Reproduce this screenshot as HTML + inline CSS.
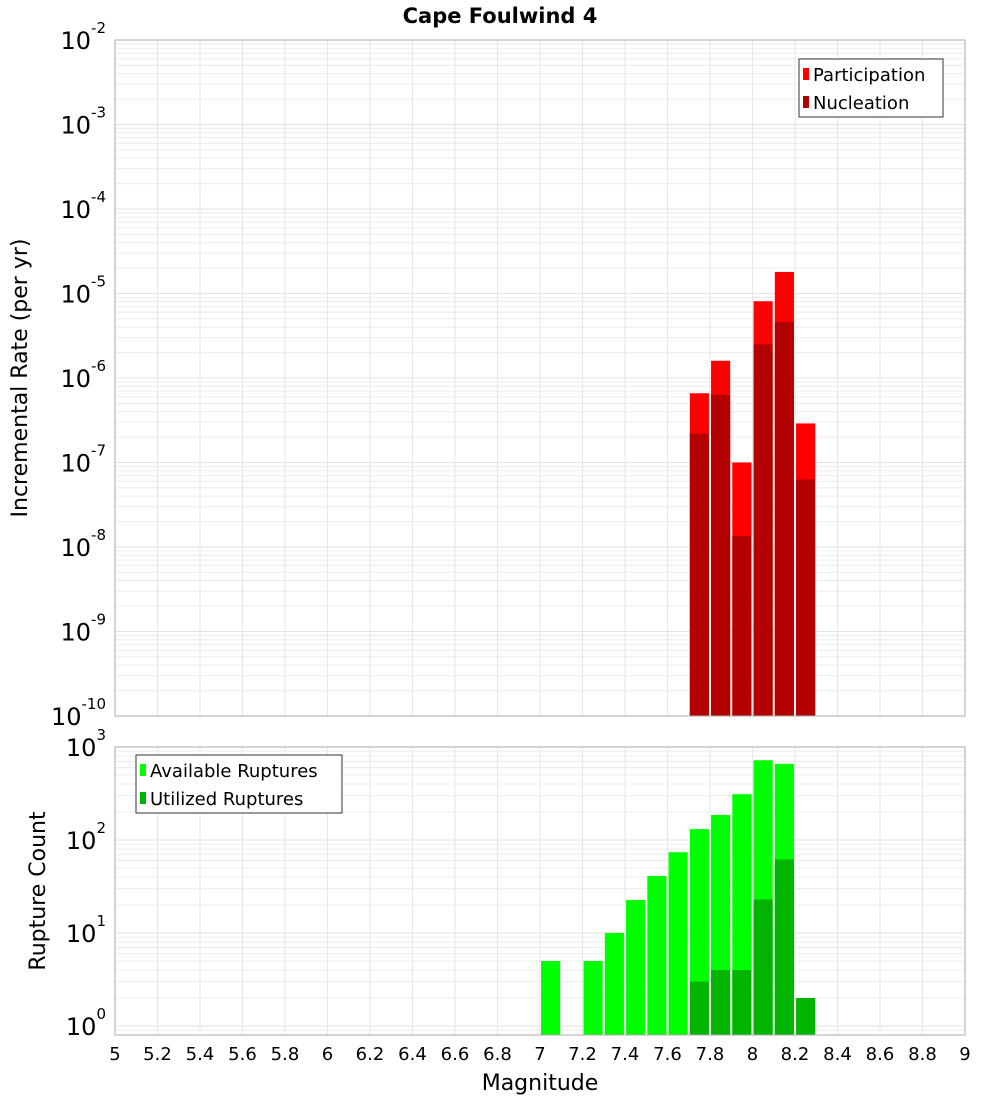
<!DOCTYPE html>
<html><head><meta charset="utf-8"><style>
body{margin:0;background:#fff;}
svg{display:block;font-family:"DejaVu Sans","Liberation Sans",sans-serif;}
</style></head><body>
<svg id="c" width="1000" height="1100" viewBox="0 0 1000 1100"></svg>
<script>
const bins=[7.05,7.15,7.25,7.35,7.45,7.55,7.65,7.75,7.85,7.95,8.05,8.15,8.25];
const participation=[0,0,0,0,0,0,0,6.6e-7,1.6e-6,1.0e-7,8.1e-6,1.8e-5,2.9e-7];
const nucleation=[0,0,0,0,0,0,0,2.2e-7,6.3e-7,1.35e-8,2.5e-6,4.6e-6,6.3e-8];
const available=[5,0,5,10,22.6,41,74,131,186,311,720,660,0];
const utilized=[0,0,0,0,0,0,0,3,4,4,23,62,2];
const xTicks=["5","5.2","5.4","5.6","5.8","6","6.2","6.4","6.6","6.8","7","7.2","7.4","7.6","7.8","8","8.2","8.4","8.6","8.8","9"];
const topExp=[-2,-3,-4,-5,-6,-7,-8,-9,-10];
const botExp=[0,1,2,3];

const svg=document.getElementById('c');const NS='http://www.w3.org/2000/svg';
function el(t,a,p){const e=document.createElementNS(NS,t);for(const k in a)e.setAttribute(k,a[k]);(p||svg).appendChild(e);return e;}
const X0=115,X1=965;
const xs=m=>X0+(m-5)*(X1-X0)/4;
const yTop=v=>40+(-2-Math.log10(v))*84.5;
const yBot=v=>1026-93*Math.log10(v);
const T0=40,T1=716,B0=747,B1=1035;

function grid(y0,y1,minE,maxE,yf,name){
  const g=el('g',{});
  for(let e=minE;e<maxE;e++)for(let k=1;k<10;k++){const y=yf(k*Math.pow(10,e));if(y<y0-0.5||y>y1+0.5)continue;
    el('line',{x1:X0,x2:X1,y1:y,y2:y,stroke:k==1?'#e2e2e2':'#ececec','stroke-width':1},g);}
  for(let i=0;i<=20;i++){const x=xs(5+i*0.2);el('line',{x1:x,x2:x,y1:y0,y2:y1,stroke:'#e6e6e6'},g);}
}
grid(T0,T1,-10,-1,yTop,'top-grid');
grid(B0,B1,-1,4,yBot,'bottom-grid');

const bw=(X1-X0)/4*0.09;
function bars(arr,yf,base,color,name){
  arr.forEach((v,i)=>{if(v<=0)return;const y=yf(v);
    const r=el('rect',{x:xs(bins[i])-bw/2,y:y,width:bw,height:base-y,fill:color});
    });
}
bars(participation,yTop,T1,'#ff0000','participation-bar');
bars(nucleation,yTop,T1,'#b30000','nucleation-bar');
bars(available,yBot,B1,'#00ff00','available-bar');
bars(utilized,yBot,B1,'#00b400','utilized-bar');

const f1=el('rect',{x:X0,y:T0,width:X1-X0,height:T1-T0,fill:'none',stroke:'#aaa'});
const f2=el('rect',{x:X0,y:B0,width:X1-X0,height:B1-B0,fill:'none',stroke:'#aaa'});

function ylab(e,y,name){const t=el('text',{x:106,y:y+9,'text-anchor':'end','font-size':24,fill:'#000'});
  
  t.textContent='10';const s=el('tspan',{dy:-16,'font-size':15},t);s.textContent=String(e);}
topExp.forEach(e=>ylab(e,yTop(Math.pow(10,e)),'top-y-tick'));
botExp.forEach(e=>ylab(e,yBot(Math.pow(10,e)),'bottom-y-tick'));
xTicks.forEach(s=>{const t=el('text',{x:xs(parseFloat(s)),y:1060,'text-anchor':'middle','font-size':18,fill:'#000'});
  t.textContent=s;});

let t=el('text',{x:500,y:23,'text-anchor':'middle','font-size':21,'font-weight':'bold'});t.textContent='Cape Foulwind 4';
t=el('text',{x:540,y:1090,'text-anchor':'middle','font-size':22});t.textContent='Magnitude';
t=el('text',{x:0,y:0,'text-anchor':'middle','font-size':22,transform:'translate(27,378) rotate(-90)'});t.textContent='Incremental Rate (per yr)';
t=el('text',{x:0,y:0,'text-anchor':'middle','font-size':22,transform:'translate(45,891) rotate(-90)'});t.textContent='Rupture Count';

function legend(x,y,w,items,name){const g=el('g',{});
  el('rect',{x:x,y:y,width:w,height:58,fill:'#fff',stroke:'#333'},g);
  items.forEach((it,i)=>{const cy=y+15+i*28;el('rect',{x:x+4,y:cy-6,width:6,height:12,fill:it[1]},g);
    const tt=el('text',{x:x+14,y:cy+7,'font-size':18},g);tt.textContent=it[0];});}
legend(799,59,144,[['Participation','#ff0000'],['Nucleation','#b30000']],'top-legend');
legend(136,755,206,[['Available Ruptures','#00ff00'],['Utilized Ruptures','#00b400']],'bottom-legend');
</script>
</body></html>
